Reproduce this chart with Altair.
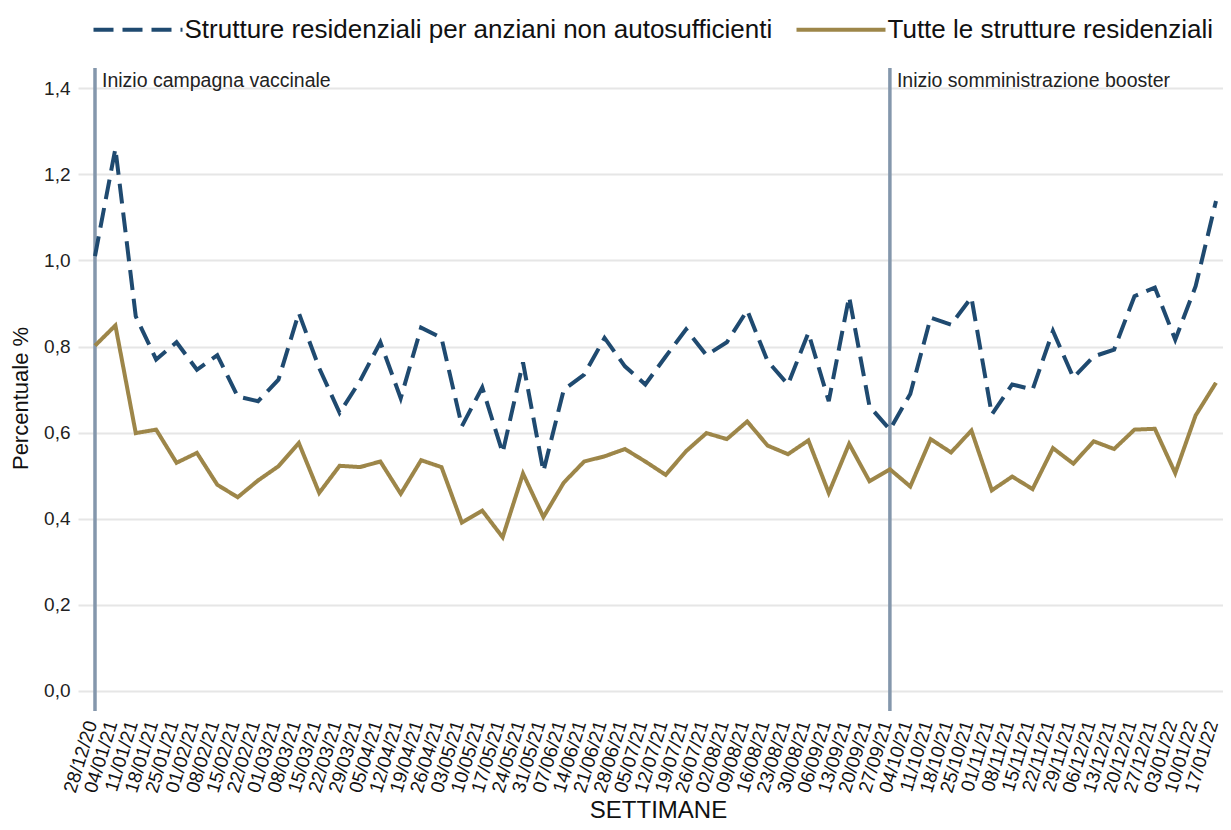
import altair as alt
import pandas as pd

weeks = ["28/12/20","04/01/21","11/01/21","18/01/21","25/01/21","01/02/21","08/02/21","15/02/21",
         "22/02/21","01/03/21","08/03/21","15/03/21","22/03/21","29/03/21","05/04/21","12/04/21",
         "19/04/21","26/04/21","03/05/21","10/05/21","17/05/21","24/05/21","31/05/21","07/06/21",
         "14/06/21","21/06/21","28/06/21","05/07/21","12/07/21","19/07/21","26/07/21","02/08/21",
         "09/08/21","16/08/21","23/08/21","30/08/21","06/09/21","13/09/21","20/09/21","27/09/21",
         "04/10/21","11/10/21","18/10/21","25/10/21","01/11/21","08/11/21","15/11/21","22/11/21",
         "29/11/21","06/12/21","13/12/21","20/12/21","27/12/21","03/01/22","10/01/22","17/01/22"]

rsa = [1.01, 1.26, 0.87, 0.77, 0.81, 0.746, 0.78, 0.684, 0.673, 0.723, 0.878, 0.75, 0.646, 0.72,
       0.81, 0.68, 0.844, 0.82, 0.615, 0.705, 0.553, 0.763, 0.51, 0.70, 0.735, 0.82, 0.754, 0.712,
       0.777, 0.84, 0.78, 0.81, 0.884, 0.766, 0.712, 0.832, 0.673, 0.916, 0.661, 0.607, 0.69, 0.867,
       0.851, 0.914, 0.642, 0.712, 0.70, 0.836, 0.728, 0.777, 0.793, 0.917, 0.937, 0.816, 0.94, 1.138]

tutte = [0.802, 0.849, 0.599, 0.607, 0.53, 0.553, 0.479, 0.45, 0.489, 0.522, 0.576, 0.46, 0.523,
         0.52, 0.533, 0.458, 0.536, 0.52, 0.391, 0.419, 0.357, 0.505, 0.404, 0.484, 0.533, 0.545,
         0.562, 0.533, 0.502, 0.557, 0.599, 0.585, 0.626, 0.57, 0.55, 0.582, 0.46, 0.574, 0.487,
         0.515, 0.475, 0.585, 0.554, 0.605, 0.466, 0.498, 0.469, 0.564, 0.528, 0.58, 0.562, 0.607,
         0.609, 0.506, 0.64, 0.716]

series_names = ["Strutture residenziali per anziani non autosufficienti", "Tutte le strutture residenziali"]
series_colors = ["#1F4A70", "#9D8649"]
series_dash = [[20, 9], [1, 0]]

event_index = [0, 39]
event_labels = ["Inizio campagna vaccinale", "Inizio somministrazione booster"]

y_ticks = [0, 0.2, 0.4, 0.6, 0.8, 1.0, 1.2, 1.4]

FONT = "Liberation Sans"

rows = []
for i, w in enumerate(weeks):
    rows.append({"idx": i, "week": w, "series": series_names[0], "value": rsa[i]})
    rows.append({"idx": i, "week": w, "series": series_names[1], "value": tutte[i]})
df = pd.DataFrame(rows)

ev = pd.DataFrame({"idx": event_index, "label": event_labels, "ypos": [1.4, 1.4]})

label_expr = "[" + ",".join("'" + w + "'" for w in weeks) + "][datum.value]"

x_scale = alt.Scale(domain=[-0.834, 55.343], nice=False, zero=False)
y_scale = alt.Scale(domain=[-0.0465, 1.447], nice=False, zero=False)

x_axis = alt.Axis(values=list(range(len(weeks))), tickCount=len(weeks), labelExpr=label_expr,
                  labelAngle=-73, labelAlign="right", labelBaseline="middle", labelPadding=10,
                  labelOffset=-4,
                  labelFontSize=19, labelOverlap=False, labelFlush=False, labelFont=FONT,
                  labelColor="#111", grid=False, ticks=False, domain=False,
                  title="SETTIMANE", titleFontSize=24, titleFontWeight="normal", titleFont=FONT,
                  titleColor="#111", titleX=580, titleY=106, titleAlign="center",
                  titleBaseline="alphabetic")

y_axis = alt.Axis(values=y_ticks, labelExpr="replace(format(datum.value, '.1f'), '.', ',')",
                  labelFontSize=19, labelPadding=8, labelFont=FONT, labelColor="#222",
                  grid=True, gridColor="#e6e6e6", gridWidth=2, ticks=False, domain=False,
                  labelOverlap=False,
                  title="Percentuale %", titleFontSize=22, titleFontWeight="normal", titleFont=FONT,
                  titleColor="#111", titleX=-51, titleY=330, titleAngle=270, titleAlign="center",
                  titleBaseline="alphabetic")

legend = alt.Legend(orient="none", legendX=13.5, legendY=-85, direction="horizontal",
                    symbolType="stroke", symbolSize=7921, symbolStrokeWidth=4,
                    labelFontSize=26, labelFont=FONT, labelColor="#111", labelLimit=1000,
                    labelOffset=0, columnPadding=16, padding=0, title=None)

X = alt.X("idx:Q", scale=x_scale, axis=x_axis)

lines = alt.Chart(df).mark_line(strokeWidth=4, strokeCap="butt", strokeJoin="miter").encode(
    x=X,
    y=alt.Y("value:Q", scale=y_scale, axis=y_axis),
    color=alt.Color("series:N", scale=alt.Scale(domain=series_names, range=series_colors), legend=legend),
    strokeDash=alt.StrokeDash("series:N", scale=alt.Scale(domain=series_names, range=series_dash), legend=legend),
    order="idx:Q",
)

rules = alt.Chart(ev).mark_rule(color="#8497AC", strokeWidth=3.5).encode(x=X)

texts = alt.Chart(ev).mark_text(align="left", baseline="alphabetic", dx=7, dy=-1,
                                fontSize=19.5, font=FONT, color="#222").encode(
    x=X,
    y=alt.Y("ypos:Q", scale=y_scale, axis=y_axis),
    text="label:N",
)

chart = alt.layer(rules, lines, texts).properties(
    width=1145, height=643,
    autosize=alt.AutoSizeParams(type="none"),
    padding={"left": 70, "top": 60, "right": 0, "bottom": 111},
    background="white",
).configure_view(stroke=None)

chart.save("out.html", embed_options={"renderer": "svg", "actions": False})
